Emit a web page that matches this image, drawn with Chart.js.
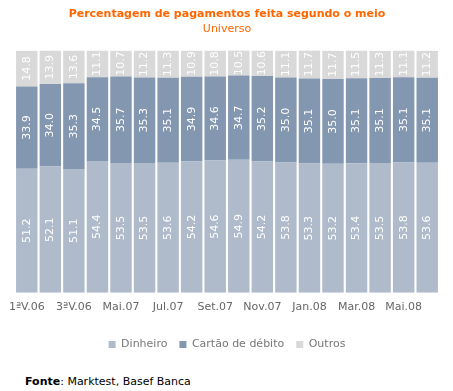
<!DOCTYPE html>
<html>
<head>
<meta charset="utf-8">
<script src="https://cdn.jsdelivr.net/npm/chart.js@4"></script>
<style>
    body { margin: 0; background: #fff; }
    #wrap { position: relative; width: 453px; height: 391px; }
    #chart { position: absolute; left: 0; top: 0; }
    #fonte { position: absolute; left: 25px; top: 375px; font: 11px "DejaVu Sans", sans-serif; color: #000; }
</style>
</head>
<body>
<div id="wrap">
    <canvas id="chart" width="453" height="360"></canvas>
    <div id="fonte"><b>Fonte</b>: Marktest, Basef Banca</div>
</div>
<script>
const categories = ['1ªV.06', '2ªV.06', '3ªV.06', 'Abr.07', 'Mai.07', 'Jun.07', 'Jul.07', 'Ago.07', 'Set.07',
    'Out.07', 'Nov.07', 'Dez.07', 'Jan.08', 'Fev.08', 'Mar.08', 'Abr.08', 'Mai.08', 'Jun.08'];
const dinheiro = [51.2, 52.1, 51.1, 54.4, 53.5, 53.5, 53.6, 54.2, 54.6, 54.9, 54.2, 53.8, 53.3, 53.2, 53.4, 53.5, 53.8, 53.6];
const cartao = [33.9, 34.0, 35.3, 34.5, 35.7, 35.3, 35.1, 34.9, 34.6, 34.7, 35.2, 35.0, 35.1, 35.0, 35.1, 35.1, 35.1, 35.1];
const outros = [14.8, 13.9, 13.6, 11.1, 10.7, 11.2, 11.3, 10.9, 10.8, 10.5, 10.6, 11.1, 11.7, 11.7, 11.5, 11.3, 11.1, 11.2];

const font = '"DejaVu Sans", sans-serif';

// white rotated value labels in the middle of each segment
const segmentLabels = {
    id: 'segmentLabels',
    afterDatasetsDraw(chart) {
        const ctx = chart.ctx;
        ctx.save();
        ctx.fillStyle = '#fff';
        ctx.font = '11px ' + font;
        ctx.textAlign = 'center';
        ctx.textBaseline = 'middle';
        chart.data.datasets.forEach((ds, i) => {
            const meta = chart.getDatasetMeta(i);
            meta.data.forEach((bar, j) => {
                const y = (bar.y + bar.base) / 2;
                ctx.save();
                ctx.translate(bar.x, y);
                ctx.rotate(-Math.PI / 2);
                ctx.fillText(ds.data[j].toFixed(1), 0, 0);
                ctx.restore();
            });
        });
        ctx.restore();
    }
};

new Chart(document.getElementById('chart'), {
    type: 'bar',
    data: {
        labels: categories,
        datasets: [
            { label: 'Dinheiro', data: dinheiro, backgroundColor: '#afbbcb' },
            { label: 'Cartão de débito', data: cartao, backgroundColor: '#8397b0' },
            { label: 'Outros', data: outros, backgroundColor: '#d9d9d9' }
        ]
    },
    options: {
        responsive: false,
        animation: false,
        barPercentage: 0.91,
        categoryPercentage: 1,
        layout: { padding: { left: 15, right: 14, bottom: 0 } },
        plugins: {
            title: {
                display: true,
                text: 'Percentagem de pagamentos feita segundo o meio',
                color: '#ff6600',
                font: { family: font, size: 11, weight: 'bold' },
                padding: { top: 8, bottom: 0 }
            },
            subtitle: {
                display: true,
                text: 'Universo',
                color: '#ff6600',
                font: { family: font, size: 11 },
                padding: { top: 1, bottom: 15 }
            },
            legend: {
                position: 'bottom',
                labels: {
                    color: '#777',
                    font: { family: font, size: 11 },
                    boxWidth: 7,
                    boxHeight: 7,
                    padding: 12
                }
            },
            tooltip: { enabled: false }
        },
        scales: {
            x: {
                stacked: true,
                grid: { display: false },
                border: { display: false },
                ticks: {
                    color: '#666',
                    font: { family: font, size: 11 },
                    maxRotation: 0,
                    autoSkip: false,
                    padding: 0,
                    callback: (v, i) => i % 2 === 0 ? categories[i] : ''
                },
                afterFit: scale => { scale.height += 13; }
            },
            y: {
                stacked: true,
                display: false,
                min: 0,
                max: 100
            }
        }
    },
    plugins: [segmentLabels]
});
</script>
</body>
</html>
